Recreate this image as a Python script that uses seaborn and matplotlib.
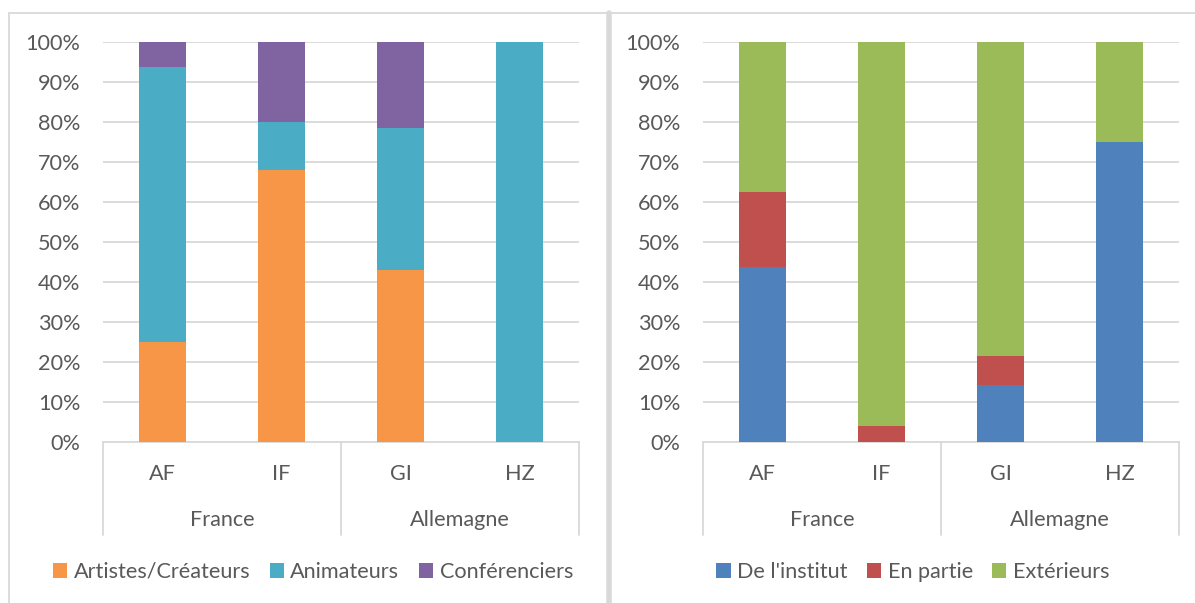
import matplotlib
matplotlib.use('Agg')
import matplotlib.pyplot as plt
import matplotlib.transforms as mtransforms
from matplotlib.patches import Patch
from matplotlib.lines import Line2D
import seaborn as sns
import pandas as pd

# data (shares in %)
sites = ['AF', 'IF', 'GI', 'HZ']
countries = ['France', 'Allemagne']

left_series = ['Artistes/Créateurs', 'Animateurs', 'Conférenciers']
artistes = [25.0, 68.0, 42.9, 0.0]
animateurs = [68.75, 12.0, 35.7, 100.0]
conferenciers = [6.25, 20.0, 21.4, 0.0]

right_series = ["De l'institut", 'En partie', 'Extérieurs']
institut = [43.75, 0.0, 14.3, 75.0]
en_partie = [18.75, 4.0, 7.1, 0.0]
exterieurs = [37.5, 96.0, 78.6, 25.0]

left_colors = ['#F79646', '#4BACC6', '#8064A2']
right_colors = ['#4F81BD', '#C0504D', '#9BBB59']

sns.set_style('white')
plt.rcParams['font.family'] = ['Lato', 'DejaVu Sans']
TXT = '#595959'
GRID = '#D9D9D9'
FS = 15.6

W, H = 1195, 603
fig = plt.figure(figsize=(W / 100, H / 100), dpi=100)


def draw_panel(rect, series, values, colors, legend_x):
    ax = fig.add_axes(rect)
    df = pd.DataFrame({'site': sites})
    bottom = [0.0] * len(sites)
    for name, vals, col in zip(series, values, colors):
        df[name] = vals
        sns.barplot(data=df, x='site', y=name, order=sites, color=col,
                    saturation=1, width=0.4, errorbar=None, bottom=bottom,
                    linewidth=0, ax=ax, zorder=3)
        bottom = [b + v for b, v in zip(bottom, vals)]
    ax.set_xlim(-0.5, len(sites) - 0.5)
    ax.set_ylim(0, 100)
    ax.set_yticks(range(0, 101, 10))
    ax.set_yticklabels([f'{v}%' for v in range(0, 101, 10)])
    ax.tick_params(axis='y', length=0, pad=16.5, labelsize=FS, labelcolor=TXT)
    ax.set_xticks([])
    ax.set_xlabel('')
    ax.set_ylabel('')
    ax.grid(axis='y', color=GRID, linewidth=1.3, zorder=0)
    for s in ['left', 'right', 'top']:
        ax.spines[s].set_visible(False)
    ax.spines['bottom'].set_color(GRID)
    ax.spines['bottom'].set_linewidth(1.3)

    # two-level category axis
    tr = mtransforms.blended_transform_factory(ax.transData, ax.transAxes)
    depth = -93 / 399
    for xs in [-0.5, 1.5, 3.5]:
        ax.add_line(Line2D([xs, xs], [0, depth], transform=tr, color=GRID,
                           linewidth=1.3, clip_on=False))
    for i, s in enumerate(sites):
        ax.text(i, -32 / 399, s, transform=tr, ha='center', va='center',
                fontsize=FS, color=TXT)
    for j, c in enumerate(countries):
        ax.text(2 * j + 0.5, -78 / 399, c, transform=tr, ha='center',
                va='center', fontsize=FS, color=TXT)

    handles = [Patch(facecolor=c, edgecolor='none', label=n)
               for n, c in zip(series, colors)]
    fig.legend(handles=handles, loc='center', ncol=3, frameon=False,
               bbox_to_anchor=(legend_x / W, 1 - 572 / H), fontsize=FS,
               labelcolor=TXT, handlelength=0.65, handleheight=0.65,
               handletextpad=0.3, columnspacing=0.9)
    return ax


draw_panel([103 / W, 1 - 442 / H, 476 / W, 400 / H], left_series,
           [artistes, animateurs, conferenciers], left_colors, 313)
draw_panel([703 / W, 1 - 442 / H, 476 / W, 400 / H], right_series,
           [institut, en_partie, exterieurs], right_colors, 913)

# panel frames
frame = dict(color=GRID, linewidth=1.3, transform=fig.transFigure)
fig.add_artist(Line2D([9 / W, 1], [1 - 13 / H, 1 - 13 / H], **frame))
fig.add_artist(Line2D([9 / W, 9 / W], [0, 1 - 13 / H], **frame))
fig.add_artist(Line2D([609 / W, 609 / W], [0, 1 - 13 / H], color=GRID,
                      linewidth=4, transform=fig.transFigure))

fig.savefig('out.png', dpi=100)
